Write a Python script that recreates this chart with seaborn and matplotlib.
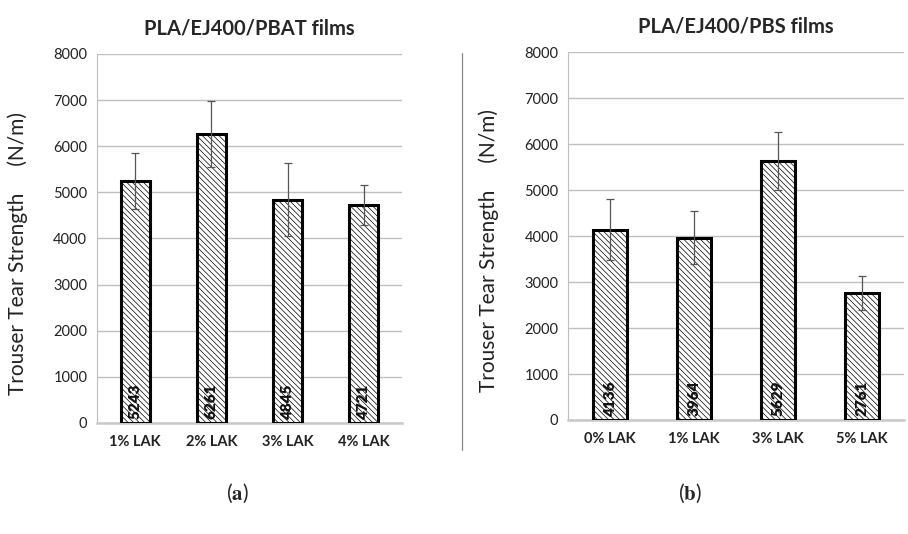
import matplotlib
matplotlib.use("Agg")
from matplotlib import pyplot as plt
import seaborn as sns
import pandas as pd

# data
pbat_labels = ['1% LAK', '2% LAK', '3% LAK', '4% LAK']
pbat_values = [5243, 6261, 4845, 4721]
pbat_errors = [600, 710, 790, 430]

pbs_labels = ['0% LAK', '1% LAK', '3% LAK', '5% LAK']
pbs_values = [4136, 3964, 5629, 2761]
pbs_errors = [665, 570, 630, 360]

y_ticks = [0, 1000, 2000, 3000, 4000, 5000, 6000, 7000, 8000]

sns.set_style("white")
plt.rcParams['font.family'] = ['Lato', 'DejaVu Sans']
plt.rcParams['hatch.color'] = '#a8a8a8'
plt.rcParams['hatch.linewidth'] = 0.5
plt.rcParams['mathtext.fontset'] = 'stix'

fig = plt.figure(figsize=(9.08, 5.34), dpi=100)
ax1 = fig.add_axes([0.1068, 0.2079, 0.336, 0.691])
ax2 = fig.add_axes([0.6256, 0.2135, 0.370, 0.689])


def draw_panel(ax, labels, values, errors, title, width):
    df = pd.DataFrame({'group': labels, 'value': values})
    sns.barplot(data=df, x='group', y='value', ax=ax, color='white',
                edgecolor='black', linewidth=2.2, width=width,
                hatch='\\\\\\\\\\\\', zorder=3)
    ax.errorbar(range(len(values)), values, yerr=errors, fmt='none',
                ecolor='#555555', elinewidth=0.9, capsize=3, capthick=0.9, zorder=4)
    for i, v in enumerate(values):
        ax.text(i, 90, str(v), rotation=90, ha='center', va='bottom',
                fontsize=11, fontweight='heavy', color='#111111', zorder=5)
    ax.set_ylim(0, 8000)
    ax.set_xlim(-0.5, len(values) - 0.5)
    ax.set_yticks(y_ticks)
    ax.tick_params(axis='y', labelsize=10.5, colors='#222222', length=0, pad=7)
    ax.tick_params(axis='x', labelsize=10.5, colors='#222222', length=0, pad=9)
    for t in ax.get_xticklabels():
        t.set_fontweight('bold')
    ax.grid(axis='y', color='#c0c0c0', linewidth=1, zorder=0)
    ax.set_axisbelow(True)
    for s in ['top', 'right']:
        ax.spines[s].set_visible(False)
    ax.spines['left'].set_color('#bfbfbf')
    ax.spines['bottom'].set_color('#c8c8c8')
    ax.spines['bottom'].set_linewidth(1.8)
    ax.set_xlabel('')
    ax.set_ylabel('Trouser Tear Strength     (N/m)', fontsize=15, color='#222222')
    ax.set_title(title, fontsize=14.5, fontweight='bold', pad=14)


draw_panel(ax1, pbat_labels, pbat_values, pbat_errors, 'PLA/EJ400/PBAT films', 0.38)
draw_panel(ax2, pbs_labels, pbs_values, pbs_errors, 'PLA/EJ400/PBS films', 0.40)
ax1.yaxis.set_label_coords(-0.225, 0.46)
ax2.yaxis.set_label_coords(-0.205, 0.46)

# divider between panels
fig.add_artist(plt.Line2D([462 / 908, 462 / 908], [1 - 53 / 534, 1 - 450 / 534],
                          color='#888888', linewidth=0.9))

fig.text(237 / 908, 1 - 493 / 534, r'($\mathbf{a}$)', ha='center', va='center', fontsize=15)
fig.text(690 / 908, 1 - 493 / 534, r'($\mathbf{b}$)', ha='center', va='center', fontsize=15)

fig.savefig('out.png', dpi=100)
